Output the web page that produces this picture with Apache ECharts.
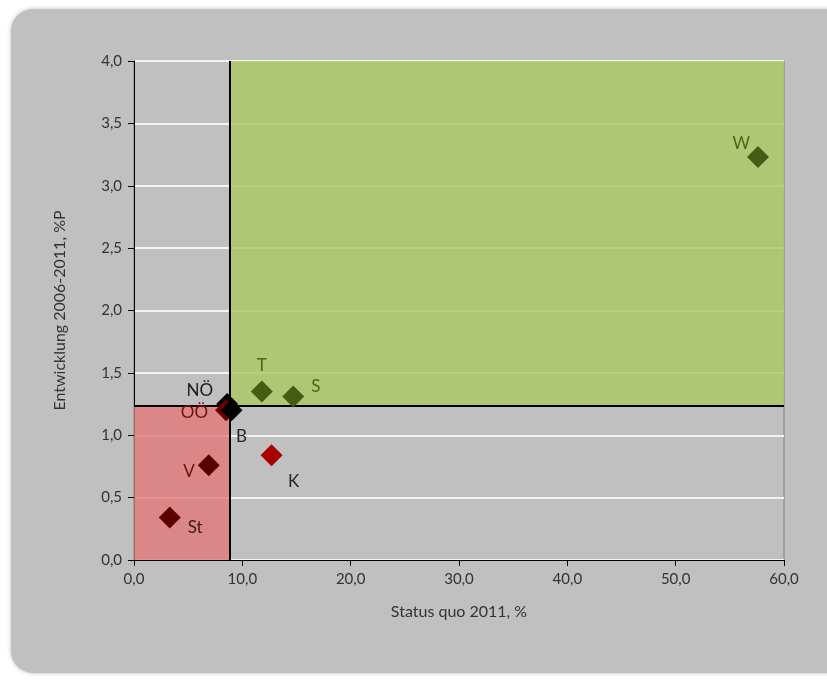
<!DOCTYPE html>
<html><head><meta charset="utf-8">
<script src="https://cdn.jsdelivr.net/npm/echarts@6/dist/echarts.min.js"></script>
<style>html,body{margin:0;padding:0;background:#fff}#c{width:827px;height:680px}</style>
</head><body><div id="c"></div>
<script>
const names = ['W','T','S','NÖ','OÖ','B','K','V','St'];
const xVals = [57.6, 11.8, 14.7, 8.6, 8.5, 9.0, 12.7, 6.9, 3.3];
const yVals = [3.23, 1.35, 1.31, 1.25, 1.20, 1.20, 0.84, 0.76, 0.34];
const markerColors = ['#465b14','#465b14','#465b14','#000000','#6e0000','#000000','#a80000','#5a0000','#5a0000'];
const labelColors = ['#4f6418','#4f6418','#4f6418','#1a1a1a','#6e1010','#262626','#262626','#6e1010','#3a1a1a'];
const labelPos = ['left','top','right','left','left','bottom','bottom','left','right'];
const labelOffset = [[8,-14],[0,-2],[2,-10],[2,-14],[-2,2],[10,2],[22,2],[2,6],[2,10]];
const xThreshold = 8.86;
const yThreshold = 1.234;
const xTicks = {min:0, max:60, interval:10};
const yTicks = {min:0, max:4, interval:0.5};

const fmt = v => v.toFixed(1).replace('.', ',');
const font = 'Lato, "Open Sans", sans-serif';

const chart = echarts.init(document.getElementById('c'));
chart.setOption({
  animation:false,
  backgroundColor:'#ffffff',
  graphic:[{type:'rect', z:-10, shape:{x:11,y:9,width:850,height:664,r:22}, style:{fill:'#c0c0c0', shadowBlur:4, shadowColor:'rgba(0,0,0,0.25)'}}],
  grid:{left:134, top:61, right:43, bottom:120, show:true, borderColor:'#808080', borderWidth:1, backgroundColor:'transparent'},
  xAxis:{type:'value', min:xTicks.min, max:xTicks.max, interval:xTicks.interval,
    name:'Status quo 2011, %', nameLocation:'middle', nameGap:44,
    nameTextStyle:{fontFamily:font, fontSize:16, color:'#333'},
    axisLine:{show:true, onZero:false, lineStyle:{color:'#000', width:1}},
    axisTick:{show:true, length:6, lineStyle:{color:'#000'}},
    axisLabel:{formatter:fmt, fontFamily:font, fontSize:15, color:'#333', margin:12},
    splitLine:{show:false}},
  yAxis:{type:'value', min:yTicks.min, max:yTicks.max, interval:yTicks.interval,
    name:'Entwicklung 2006-2011, %P', nameLocation:'middle', nameGap:66,
    nameTextStyle:{fontFamily:font, fontSize:16, color:'#333'},
    axisLine:{show:true, onZero:false, lineStyle:{color:'#000', width:1}},
    axisTick:{show:true, length:6, lineStyle:{color:'#000'}},
    axisLabel:{formatter:fmt, fontFamily:font, fontSize:15, color:'#333', margin:12},
    splitLine:{show:true, lineStyle:{color:'#f4f4f4', width:2}}},
  series:[
    {type:'scatter', data:[], silent:true, z:1,
     markArea:{silent:true, data:[
       [{xAxis:xThreshold, yAxis:yThreshold, itemStyle:{color:'rgba(172,199,104,0.86)'}},{xAxis:xTicks.max, yAxis:yTicks.max}],
       [{xAxis:xTicks.min, yAxis:yTicks.min, itemStyle:{color:'rgba(226,120,120,0.80)'}},{xAxis:xThreshold, yAxis:yThreshold}]
     ]},
     markLine:{silent:true, symbol:'none', label:{show:false}, lineStyle:{color:'#000', width:2, type:'solid'}, data:[
       [{coord:[xThreshold, yTicks.min]},{coord:[xThreshold, yTicks.max]}],
       [{coord:[xTicks.min, yThreshold]},{coord:[xTicks.max, yThreshold]}]
     ]}},
    {type:'scatter', z:5, symbol:'diamond', symbolSize:22,
     data: names.map((n,i)=>({value:[xVals[i], yVals[i]], name:n,
       itemStyle:{color:markerColors[i], opacity:1},
       label:{show:true, formatter:n, position:labelPos[i], offset:labelOffset[i],
         color:labelColors[i], fontFamily:font, fontSize:17}}))}
  ]
});
</script></body></html>
